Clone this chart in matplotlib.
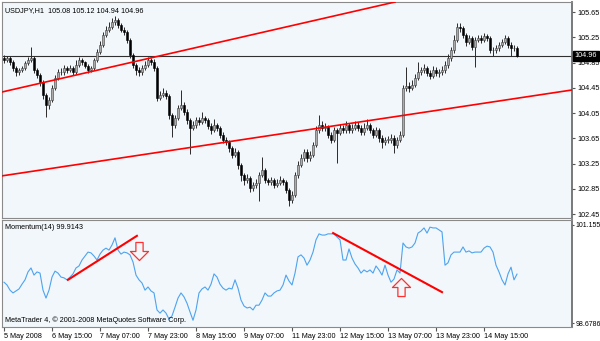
import matplotlib
matplotlib.use("Agg")
import matplotlib.pyplot as plt
from matplotlib.path import Path
from matplotlib.transforms import blended_transform_factory

plt.rcParams['font.family'] = ['Liberation Sans', 'DejaVu Sans']
plt.rcParams['font.size'] = 5.2
FS = 5.2

symbol = "USDJPY,H1"
last_ohlc = [105.08, 105.12, 104.94, 104.96]
first_open = 104.92

# hourly closes
closes = [
    104.89, 104.92, 104.86, 104.76, 104.70, 104.73, 104.76, 104.84, 104.89, 104.92,
    104.73, 104.65, 104.54, 104.34, 104.18, 104.26, 104.45, 104.61, 104.70, 104.70,
    104.76, 104.73, 104.76, 104.70, 104.81, 104.89, 104.86, 104.80, 104.73, 104.76,
    104.89, 105.02, 105.13, 105.29, 105.37, 105.41, 105.49, 105.52, 105.44, 105.37,
    105.33, 105.21, 104.97, 104.81, 104.73, 104.70, 104.76, 104.81, 104.89, 104.86,
    104.76, 104.29, 104.34, 104.37, 104.32, 104.02, 103.86, 103.97, 104.13, 104.18,
    104.07, 103.94, 103.82, 103.86, 103.94, 103.91, 103.97, 103.94, 103.85, 103.78,
    103.86, 103.82, 103.71, 103.63, 103.59, 103.50, 103.39, 103.44, 103.23, 103.07,
    102.99, 103.03, 102.87, 102.91, 102.95, 103.07, 103.15, 102.99, 102.96, 102.99,
    102.91, 102.95, 102.99, 102.96, 102.84, 102.68, 102.76, 103.07, 103.23, 103.34,
    103.44, 103.34, 103.39, 103.55, 103.78, 103.86, 103.82, 103.83, 103.71, 103.63,
    103.78, 103.74, 103.82, 103.78, 103.86, 103.78, 103.82, 103.86, 103.82, 103.75,
    103.82, 103.86, 103.78, 103.71, 103.78, 103.66, 103.59, 103.63, 103.63, 103.66,
    103.55, 103.63, 103.71, 104.45, 104.48, 104.45, 104.50, 104.61, 104.70, 104.73,
    104.76, 104.69, 104.64, 104.73, 104.69, 104.70, 104.73, 104.81, 104.92, 105.05,
    105.21, 105.41, 105.40, 105.29, 105.18, 105.24, 105.10, 105.21, 105.24, 105.21,
    105.27, 105.24, 105.05, 105.05, 105.08, 105.13, 105.18, 105.24, 105.13, 105.08,
    105.08, 104.96]

highs = [
    104.97, 104.96, 104.95, 104.89, 104.79, 104.77, 104.80, 104.88, 104.94, 105.10,
    104.95, 104.76, 104.68, 104.57, 104.37, 104.31, 104.49, 104.65, 104.75, 104.76,
    104.81, 104.79, 104.82, 104.79, 104.89, 104.94, 104.93, 104.88, 104.83, 104.80,
    104.93, 105.07, 105.19, 105.34, 105.43, 105.50, 105.56, 105.59, 105.56, 105.48,
    105.42, 105.37, 105.24, 105.00, 104.85, 104.78, 104.81, 104.88, 104.94, 104.93,
    104.90, 104.79, 104.40, 104.45, 104.41, 104.35, 104.05, 104.02, 104.18, 104.42,
    104.22, 104.11, 103.97, 103.92, 103.99, 103.99, 104.07, 104.01, 103.98, 103.89,
    103.96, 103.90, 103.85, 103.75, 103.67, 103.63, 103.53, 103.50, 103.47, 103.26,
    103.10, 103.09, 103.06, 102.96, 103.00, 103.12, 103.35, 103.18, 103.03, 103.04,
    103.02, 103.00, 103.06, 103.03, 102.99, 102.87, 102.82, 103.12, 103.29, 103.40,
    103.49, 103.48, 103.45, 103.60, 103.84, 104.02, 103.92, 103.90, 103.87, 103.75,
    103.83, 103.82, 103.88, 103.86, 103.93, 103.90, 103.88, 103.93, 103.91, 103.86,
    103.89, 103.95, 103.90, 103.82, 103.83, 103.81, 103.70, 103.68, 103.69, 103.72,
    103.70, 103.68, 103.77, 104.50, 104.78, 104.54, 104.57, 104.67, 104.86, 104.78,
    104.83, 104.80, 104.73, 104.80, 104.78, 104.75, 104.79, 104.87, 104.98, 105.10,
    105.28, 105.47, 105.47, 105.43, 105.32, 105.29, 105.27, 105.26, 105.29, 105.28,
    105.32, 105.31, 105.27, 105.10, 105.13, 105.18, 105.23, 105.29, 105.27, 105.17,
    105.13, 105.12]

lows = [
    104.85, 104.86, 104.82, 104.72, 104.64, 104.66, 104.70, 104.73, 104.81, 104.86,
    104.69, 104.60, 104.48, 104.28, 103.99, 104.12, 104.22, 104.42, 104.57, 104.65,
    104.66, 104.69, 104.70, 104.66, 104.67, 104.78, 104.82, 104.76, 104.69, 104.70,
    104.73, 104.86, 104.99, 105.10, 105.25, 105.33, 105.38, 105.45, 105.40, 105.33,
    105.28, 105.16, 104.92, 104.76, 104.66, 104.64, 104.66, 104.73, 104.78, 104.82,
    104.72, 104.24, 104.26, 104.31, 104.27, 103.95, 103.68, 103.82, 103.94, 104.10,
    104.02, 103.88, 103.40, 103.78, 103.82, 103.86, 103.88, 103.90, 103.80, 103.72,
    103.75, 103.77, 103.66, 103.58, 103.54, 103.44, 103.34, 103.35, 103.17, 102.98,
    102.92, 102.95, 102.80, 102.82, 102.86, 102.66, 103.04, 102.94, 102.91, 102.92,
    102.86, 102.88, 102.92, 102.91, 102.78, 102.58, 102.63, 102.72, 103.03, 103.19,
    103.30, 103.28, 103.30, 103.35, 103.51, 103.74, 103.77, 103.77, 103.66, 103.58,
    103.59, 103.26, 103.70, 103.73, 103.74, 103.73, 103.74, 103.78, 103.77, 103.70,
    103.71, 103.78, 103.73, 103.66, 103.67, 103.60, 103.50, 103.54, 103.57, 103.58,
    103.42, 103.50, 103.59, 103.67, 104.40, 104.38, 104.41, 104.46, 104.57, 104.66,
    104.69, 104.64, 104.59, 104.61, 104.64, 104.63, 104.66, 104.69, 104.77, 104.88,
    105.01, 105.17, 105.33, 105.24, 105.12, 105.14, 105.05, 104.78, 105.17, 105.16,
    105.18, 105.19, 105.00, 104.96, 105.01, 105.04, 105.09, 105.14, 105.08, 104.95,
    105.03, 104.94]

# Momentum(14)
momentum = [
    99.71, 99.64, 99.51, 99.44, 99.49, 99.54, 99.66, 99.77, 99.97, 100.07,
    99.89, 99.97, 99.94, 99.51, 99.31, 99.51, 99.84, 99.99, 99.94, 99.84,
    99.82, 99.77, 99.84, 99.92, 100.07, 100.12, 100.27, 100.37, 100.47, 100.45,
    100.37, 100.27, 100.42, 100.52, 100.57, 100.52, 100.65, 100.83, 100.52, 100.42,
    100.47, 100.45, 100.40, 100.22, 99.89, 99.77, 99.69, 99.51, 99.59, 99.49,
    99.44, 99.01, 98.93, 99.01, 98.93, 98.78, 98.86, 99.08, 99.31, 99.44,
    99.34, 99.18, 98.96, 98.75, 99.01, 99.44, 99.54, 99.59, 99.51, 99.66,
    99.92, 99.84, 99.66, 99.56, 99.51, 99.56, 99.54, 99.77, 99.56, 99.26,
    99.11, 99.06, 99.08, 99.01, 99.13, 99.13, 99.26, 99.44, 99.36, 99.36,
    99.44, 99.49, 99.51, 99.64, 99.89, 99.74, 99.64, 99.94, 100.35, 100.40,
    100.32, 100.14, 100.27, 100.47, 100.78, 100.93, 100.90, 100.90, 100.93, 100.93,
    100.93, 100.85, 100.78, 100.27, 100.27, 100.55, 100.32, 100.17, 100.07, 99.94,
    100.02, 99.97, 100.02, 99.94, 100.12, 100.02, 99.89, 100.14, 99.89, 99.71,
    99.79, 100.02, 99.94, 100.70, 100.60, 100.57, 100.60, 100.70, 100.95, 101.00,
    101.08, 100.95, 101.10, 101.08, 101.08, 101.03, 100.98, 100.14, 100.20, 100.40,
    100.47, 100.47, 100.47, 100.60, 100.47, 100.50, 100.45, 100.47, 100.47, 100.47,
    100.57, 100.62, 100.60, 100.47, 100.14, 99.97, 99.77, 99.64, 99.92, 100.09,
    99.77, 99.9143]

date_labels = ["5 May 2008", "6 May 15:00", "7 May 07:00", "7 May 23:00",
               "8 May 15:00", "9 May 07:00", "11 May 23:00", "12 May 15:00",
               "13 May 07:00", "13 May 23:00", "14 May 15:00"]
date_bars = [0, 16, 32, 48, 64, 80, 96, 112, 128, 144, 160]
price_ticks = [105.65, 105.25, 104.85, 104.45, 104.05, 103.65, 103.25, 102.85, 102.45]
mom_ticks = [101.155, 98.6786]

# hand-drawn trend lines: (bar, value) end points
upper_line = ([-0.67, 130.33], [104.385, 105.81])
lower_line = ([-0.67, 189.33], [103.057, 104.417])
mom_up_line = ([21.3, 44.3], [99.77, 100.88])
mom_down_line = ([109.7, 146.0], [100.95, 99.46])
down_arrow = (45, 100.50)
up_arrow = (132.3, 99.59)

opens = [first_open] + closes[:-1]
bars = list(range(len(closes)))
bg = '#F1F7FB'

# hollow block-arrow marker shapes
down_shape = Path([(-0.2, 0.5), (0.2, 0.5), (0.2, 0.0), (0.5, 0.0), (0.0, -0.5),
                   (-0.5, 0.0), (-0.2, 0.0), (-0.2, 0.5)], closed=True)
up_shape = Path([(x, -y) for x, y in down_shape.vertices], closed=True)

fig = plt.figure(figsize=(6, 3.41), dpi=100, facecolor='white')
ax = fig.add_axes([2 / 600, 123 / 341, 570 / 600, 216 / 341], facecolor=bg)
axm = fig.add_axes([2 / 600, 14 / 341, 570 / 600, 107 / 341], facecolor=bg)

# candles
up = [c >= o for o, c in zip(opens, closes)]
ax.vlines(bars, lows, highs, color='#2a2a2a', lw=0.7, zorder=2)
ax.bar(bars, [max(abs(c - o), 0.006) for o, c in zip(opens, closes)],
       bottom=[min(o, c) for o, c in zip(opens, closes)], width=0.62,
       color=['#ababab' if u else 'black' for u in up],
       edgecolor=['#3c3c3c' if u else 'black' for u in up], linewidth=0.4, zorder=3)

ax.axhline(last_ohlc[3], color='#303030', lw=0.8, zorder=1)
ax.plot(*upper_line, color='#ff0000', lw=1.2, zorder=4)
ax.plot(*lower_line, color='#ff0000', lw=1.2, zorder=4)

ax.set_xlim(-0.67, 189.33)
ax.set_ylim(102.39, 105.81)
ax.yaxis.tick_right()
ax.set_yticks(price_ticks)
ax.set_yticklabels([f"{t:.2f}" for t in price_ticks])
ax.tick_params(axis='y', direction='out', length=2, pad=2, color='#555555', labelsize=FS)
ax.tick_params(axis='x', bottom=False, labelbottom=False)

tr = blended_transform_factory(ax.transAxes, ax.transData)
ax.text(1.005, last_ohlc[3], f"{last_ohlc[3]:.2f}", transform=tr, color='white',
        fontsize=FS, va='center', ha='left', zorder=10, clip_on=False,
        bbox=dict(boxstyle='square,pad=0.2', fc='black', ec='black'))
ax.text(0.006, 0.975, symbol + "  " + " ".join(f"{v:.2f}" for v in last_ohlc),
        transform=ax.transAxes, va='top', ha='left', fontsize=FS)

# momentum panel
axm.plot(bars, momentum, color='#4ea3ef', lw=0.8)
axm.plot(*mom_up_line, color='#ff0000', lw=1.5)
axm.plot(*mom_down_line, color='#ff0000', lw=1.5)
axm.plot(*down_arrow, marker=down_shape, ms=13, mfc='none', mec='#ff3030', mew=0.9)
axm.plot(*up_arrow, marker=up_shape, ms=13, mfc='none', mec='#ff3030', mew=0.9)
axm.set_xlim(-0.67, 189.33)
axm.set_ylim(98.58, 101.28)
axm.yaxis.tick_right()
axm.set_yticks(mom_ticks)
axm.set_yticklabels(["101.155", "98.6786"])
axm.tick_params(axis='y', direction='out', length=1.5, pad=1, color='#555555', labelsize=5.0)
axm.set_xticks(date_bars)
axm.set_xticklabels(date_labels)
for lab in axm.get_xticklabels():
    lab.set_ha('left')
axm.tick_params(axis='x', direction='out', length=3, pad=1.5, color='#555555', labelsize=FS)
axm.text(0.006, 0.965, f"Momentum(14) {momentum[-1]}", transform=axm.transAxes,
         va='top', ha='left', fontsize=FS)
axm.text(0.006, 0.025, "MetaTrader 4, \u00a9 2001-2008 MetaQuotes Software Corp.",
         transform=axm.transAxes, va='bottom', ha='left', fontsize=FS)

for a in (ax, axm):
    for side in ('top', 'left', 'bottom'):
        a.spines[side].set_color('#8a8a8a')
        a.spines[side].set_linewidth(0.8)
    a.spines['right'].set_color('#6e6e6e')
    a.spines['right'].set_linewidth(1.3)

fig.savefig('out.png', dpi=100, facecolor='white')
